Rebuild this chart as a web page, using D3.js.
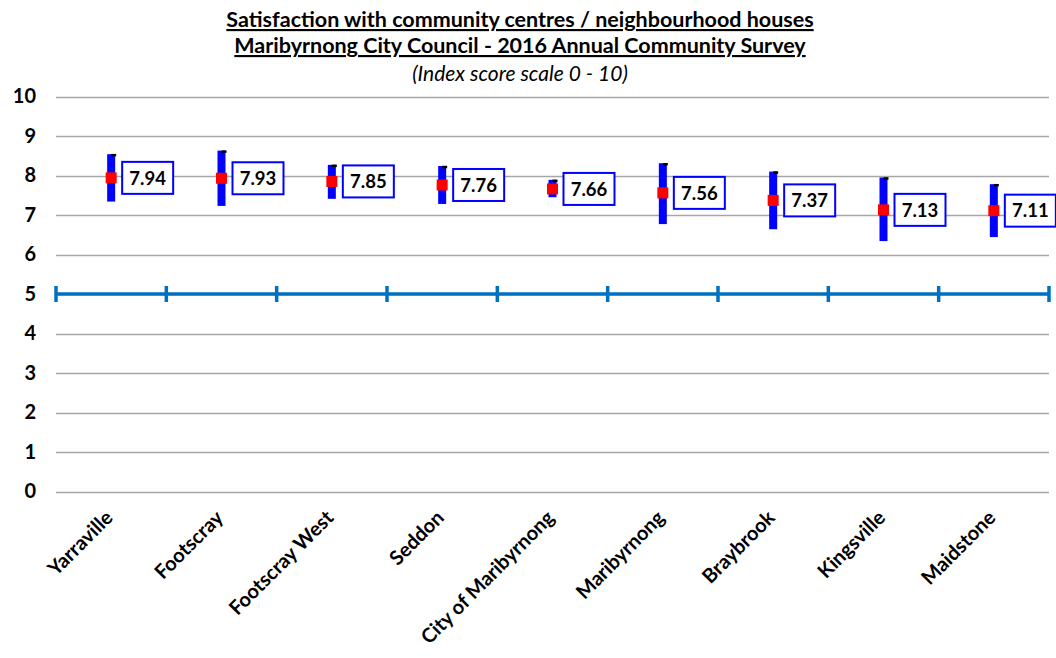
<!DOCTYPE html>
<html><head><meta charset="utf-8">
<script src="https://cdn.jsdelivr.net/npm/d3@7"></script>
<style>
body{margin:0;background:#fff;}
svg{display:block;font-family:Lato, "Noto Sans", sans-serif;}
</style></head>
<body><svg id="c" width="1056" height="658"></svg>
<script>
const categories = ["Yarraville","Footscray","Footscray West","Seddon","City of Maribyrnong","Maribyrnong","Braybrook","Kingsville","Maidstone"];
const means = [7.94,7.93,7.85,7.76,7.66,7.56,7.37,7.13,7.11];
const upper = [8.54,8.63,8.27,8.24,7.89,8.31,8.10,7.95,7.78];
const lower = [7.34,7.23,7.41,7.28,7.45,6.77,6.64,6.34,6.44];
const yTicks = [0,1,2,3,4,5,6,7,8,9,10];
const titleLines = ["Satisfaction with community centres / neighbourhood houses","Maribyrnong City Council - 2016 Annual Community Survey"];
const subtitle = "(Index score scale 0 - 10)";
const crossValue = 5;

const svg = d3.select("#c");
const x = d3.scaleBand().domain(categories).range([56,1049]).paddingInner(0).paddingOuter(0);
const y = d3.scaleLinear().domain([0,10]).range([491.5,96.5]);

// title
svg.selectAll("text.title").data(titleLines).join("text")
  .attr("x",520).attr("y",(d,i)=>27+i*26)
  .attr("text-anchor","middle").attr("font-size",21.5).attr("font-weight","bold")
  .attr("text-decoration","underline").attr("fill","#000").text(d=>d);
svg.append("text").attr("x",520).attr("y",81).attr("text-anchor","middle")
  .attr("font-size",21).attr("font-style","italic").attr("fill","#000").text(subtitle);

// gridlines
svg.append("g").selectAll("line").data(yTicks).join("line")
  .attr("x1",56).attr("x2",1049).attr("y1",d=>Math.round(y(d))+0.5).attr("y2",d=>Math.round(y(d))+0.5)
  .attr("stroke","#a6a6a6").attr("stroke-width",1.5);

// y axis labels
const yAxis = d3.axisLeft(y).tickValues(yTicks).tickSize(0).tickPadding(0).tickFormat(d3.format("d"));
const ya = svg.append("g").attr("transform","translate(36,0)").call(yAxis);
ya.select(".domain").remove();
ya.selectAll("text").attr("font-size",20).attr("font-weight","bold").attr("fill","#000").attr("font-family","Lato, sans-serif");

// crossing axis at 5
const bounds = categories.map(c=>x(c)).concat([x.range()[1]]);
const yc = y(crossValue);
svg.append("line").attr("x1",56).attr("x2",1049).attr("y1",yc).attr("y2",yc).attr("stroke","#0070c0").attr("stroke-width",3.5);
svg.append("g").selectAll("line").data(bounds).join("line")
  .attr("x1",d=>d).attr("x2",d=>d).attr("y1",yc-8).attr("y2",yc+8)
  .attr("stroke","#0070c0").attr("stroke-width",3.5);

// category labels
const xAxis = d3.axisBottom(x).tickSize(0).tickPadding(0);
const xa = svg.append("g").attr("transform","translate(0,514)").call(xAxis);
xa.select(".domain").remove();
xa.selectAll("text").attr("font-size",20).attr("font-weight","bold").attr("fill","#000")
  .attr("font-family","Lato, sans-serif")
  .attr("text-anchor","end").attr("y",0).attr("dy","0.35em").attr("dx",0)
  .attr("transform","translate(-2,0) rotate(-45)");

const data = categories.map((c,i)=>({c,m:means[i],u:upper[i],l:lower[i]}));
const g = svg.append("g").selectAll("g").data(data).join("g")
  .attr("transform",d=>`translate(${x(d.c)+x.bandwidth()/2},0)`);

g.append("rect").attr("x",-4).attr("width",8).attr("y",d=>y(d.u)).attr("height",d=>y(d.l)-y(d.u)).attr("fill","#0000ff");
g.append("line").attr("x1",0).attr("x2",5).attr("y1",d=>y(d.u)+1).attr("y2",d=>y(d.u)+1).attr("stroke","#000").attr("stroke-width",2.5);
g.append("rect").attr("x",-5.5).attr("width",11).attr("height",11).attr("y",d=>y(d.m)-5.5).attr("fill","#ff0000");
g.append("rect").attr("x",11).attr("width",51).attr("height",32).attr("y",d=>y(d.m)-16)
  .attr("fill","#fff").attr("stroke","#0000ff").attr("stroke-width",2);
g.append("text").attr("x",36.5).attr("y",d=>y(d.m)).attr("dy","0.36em").attr("text-anchor","middle")
  .attr("font-size",18.5).attr("font-weight","bold").attr("fill","#000").text(d=>d.m.toFixed(2));
</script></body></html>
